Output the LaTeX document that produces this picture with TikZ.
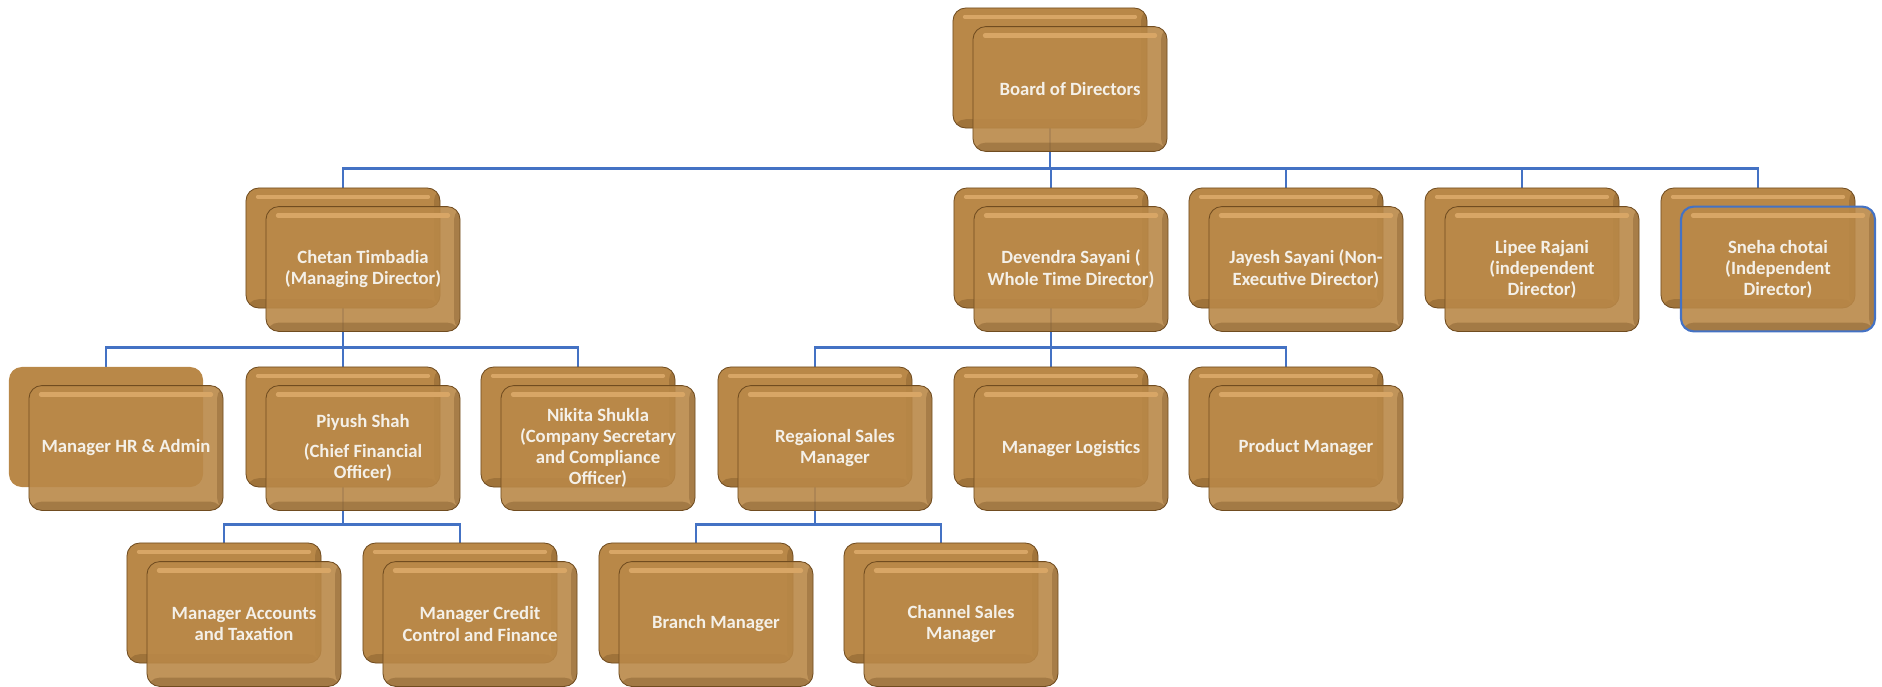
\documentclass[tikz,border=0pt]{standalone}
\usepackage{fontspec}
\setmainfont{Carlito}
\usetikzlibrary{backgrounds}
\definecolor{cardfill}{RGB}{185,136,72}
\definecolor{cardedge}{RGB}{112,76,32}
\definecolor{cardlight}{RGB}{216,166,102}
\definecolor{linkblue}{RGB}{68,114,196}
\definecolor{cardtext}{RGB}{244,240,232}
\begin{document}
\begin{tikzpicture}[x=0.025cm, y=-0.025cm,
  cardbase/.style={rectangle, rounded corners=0.32cm, minimum width=4.85cm, minimum height=3cm, inner sep=0pt, fill=cardfill},
  card/.style={cardbase, draw=cardedge, line width=0.6pt,
    path picture={
      \fill[cardedge, opacity=0.35] (path picture bounding box.south west) rectangle ([yshift=0.22cm]path picture bounding box.south east);
      \fill[cardedge, opacity=0.3] (path picture bounding box.north east) rectangle ([xshift=-0.15cm]path picture bounding box.south east);
      \draw[cardlight, line width=3pt, line cap=round] ([shift={(0.3cm,-0.22cm)}]path picture bounding box.north west) -- ([shift={(-0.3cm,-0.22cm)}]path picture bounding box.north east);}},
  front/.style={card, minimum height=3.12cm, fill opacity=0.9, text opacity=1, text=cardtext, align=center, font=\bfseries\fontsize{13.3}{15}\selectfont},
  link/.style={draw=linkblue, line width=2.1pt}]
  \useasboundingbox (0,0) rectangle (1882,686);

  % Back cards
  \node[card] (bod) at (1050,68) {};
  \node[card] (cht) at (343,248) {};
  \node[card] (dev) at (1051,248) {};
  \node[card] (jay) at (1286,248) {};
  \node[card] (lip) at (1522,248) {};
  \node[card] (sne) at (1758,248) {};
  \node[cardbase] (hra) at (106,427) {};
  \node[card] (piy) at (343,427) {};
  \node[card] (nik) at (578,427) {};
  \node[card] (rsm) at (815,427) {};
  \node[card] (log) at (1051,427) {};
  \node[card] (prd) at (1286,427) {};
  \node[card] (acc) at (224,603) {};
  \node[card] (crd) at (460,603) {};
  \node[card] (brn) at (696,603) {};
  \node[card] (chn) at (941,603) {};

  % Front cards with the names
  \node[front] (bod-f) at ([shift={(20,21)}]bod.center) {Board of Directors};
  \node[front] (cht-f) at ([shift={(20,21)}]cht.center) {Chetan Timbadia\\(Managing Director)};
  \node[front] (dev-f) at ([shift={(20,21)}]dev.center) {Devendra Sayani (\\Whole Time Director)};
  \node[front] (jay-f) at ([shift={(20,21)}]jay.center) {Jayesh Sayani (Non-\\Executive Director)};
  \node[front] (lip-f) at ([shift={(20,21)}]lip.center) {Lipee Rajani\\(independent\\Director)};
  \node[front, draw=linkblue, line width=1.5pt] (sne-f) at ([shift={(20,21)}]sne.center) {Sneha chotai\\(Independent\\Director)};
  \node[front] (hra-f) at ([shift={(20,21)}]hra.center) {Manager HR \& Admin};
  \node[front] (piy-f) at ([shift={(20,21)}]piy.center) {Piyush Shah\\[6pt](Chief Financial\\Officer)};
  \node[front] (nik-f) at ([shift={(20,21)}]nik.center) {Nikita Shukla\\(Company Secretary\\and Compliance\\Officer)};
  \node[front] (rsm-f) at ([shift={(20,21)}]rsm.center) {Regaional Sales\\Manager};
  \node[front] (log-f) at ([shift={(20,21)}]log.center) {Manager Logistics};
  \node[front] (prd-f) at ([shift={(20,21)}]prd.center) {Product Manager};
  \node[front] (acc-f) at ([shift={(20,21)}]acc.center) {Manager Accounts\\and Taxation};
  \node[front] (crd-f) at ([shift={(20,21)}]crd.center) {Manager Credit\\Control and Finance};
  \node[front] (brn-f) at ([shift={(20,21)}]brn.center) {Branch Manager};
  \node[front] (chn-f) at ([shift={(20,21)}]chn.center) {Channel Sales\\Manager};

  % Connectors
  \begin{scope}[on background layer]
    \foreach \c in {cht,dev,jay,lip,sne}
      \draw[link] (bod.south) |- ([yshift=0.475cm]\c.north) -- (\c.north);
    \foreach \c in {hra,piy,nik}
      \draw[link] (cht.south) |- ([yshift=0.475cm]\c.north) -- (\c.north);
    \foreach \c in {rsm,log,prd}
      \draw[link] (dev.south) |- ([yshift=0.475cm]\c.north) -- (\c.north);
    \foreach \c in {acc,crd}
      \draw[link] (piy.south) |- ([yshift=0.45cm]\c.north) -- (\c.north);
    \foreach \c in {brn,chn}
      \draw[link] (rsm.south) |- ([yshift=0.45cm]\c.north) -- (\c.north);
  \end{scope}
\end{tikzpicture}
\end{document}
